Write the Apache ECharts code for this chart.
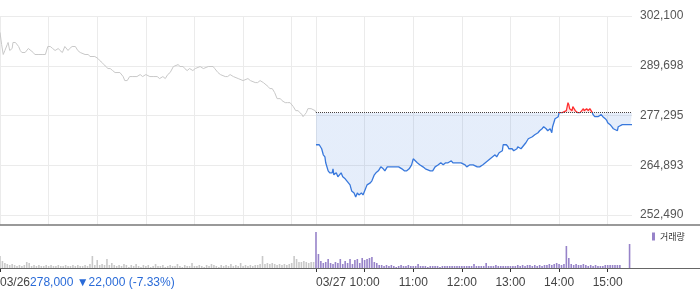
<!DOCTYPE html>
<html><head><meta charset="utf-8">
<script src="https://cdn.jsdelivr.net/npm/echarts@6/dist/echarts.min.js"></script>
<style>html,body{margin:0;padding:0;background:#fff}#c{width:700px;height:289px}</style>
</head><body><div id="c"></div>
<script>
// ---- data ----
const dayLabels = ['03/26', '03/27'];
const sessionMinutes = 390; // 09:00 - 15:30
const prevClose = 278000;   // 03/26 close (reference line for 03/27)
const summaryPrice = '278,000';
const summaryChange = '▼22,000 (-7.33%)';
const priceAxisMin = 252490;
const priceAxisMax = 302100;
const priceAxisStep = 12402.5;
const volumeAxisMax = 43; // thousand shares

// minute offsets (from 03/26 09:00) and prices, 03/26
const day1Min = [0,2,4,6,9,10,12,15,16,19,21,23,25,27,31,35,37,41,43,47,49,53,56,59,62,65,68,72,74,77,80,84,86,89,93,96,99,101,105,109,111,117,121,123,126,128,131,133,136,139,142,144,148,152,154,157,160,164,169,173,176,180,185,189,194,197,201,204,207,210,214,216,220,222,226,228,231,234,238,241,243,247,251,253,257,259,263,265,269,272,274,278,281,284,288,290,294,296,300,302,306,309,311,315,318,321,325,327,331,333,336,339,342,346,348,352,355,358,362,365,368,370,373,374,376,378,380,384,386,389,390];
const day1Price = [298000,295000,292500,293500,295000,295500,293500,294000,295500,295500,
295500,294500,293500,293000,293000,294000,294000,293000,292500,292500,
292500,292500,292500,294500,294500,294000,293500,294000,293500,293000,
294500,293500,294000,294500,294500,293500,293000,293000,292500,292500,
292000,292000,291500,291000,290500,290000,289500,289000,289000,288500,
288000,288000,288000,287000,286000,286000,287000,287000,287000,287500,
287000,287500,287000,287000,287000,286500,287000,286500,287500,288000,
289500,289500,290000,289500,289500,289000,288500,289000,288500,289000,
289000,289500,289000,289000,289500,289500,289500,289000,288000,287500,
287500,287000,287000,287500,287000,287000,286500,286500,286000,286000,
286500,286000,286000,285500,285500,286000,285500,285500,284500,284000,
284000,283000,281500,281500,281000,280500,280500,280500,279500,278500,
278500,278000,277500,277000,277500,278000,279000,279000,279000,278500,
278000];

// 03/27
const day2Min = [390,394,397,399,401,402,405,407,410,411,412,415,417,421,423,426,428,432,434,437,439,441,443,446,448,450,453,457,459,462,464,467,470,473,475,478,481,485,488,490,492,496,499,502,505,508,510,512,515,516,
518,522,525,527,531,534,537,541,544,547,550,553,557,559,563,565,569,571,574,576,580,584,586,589,592,596,599,601,605,608,611,613,616,620,621,625,627,628,632,634,638,639,643,645,
649,652,654,657,660,664,666,669,671,674,676,679,681,682,685,687,689,690,692,694,696,699,700,701,702,703,706,707,710,712,713,716,718,720,721,722,724,726,728,731,732,734,738,742,744,747,749,750,753,755,757,759,762,763,765,768,771,775,778,780];
const day2Price = [270000,270000,269000,267500,267000,265500,263500,263000,263000,264000,
262500,263000,262000,263000,262000,261500,261000,260000,258500,258000,
257000,258000,257500,258000,257500,258500,260000,260500,261000,262500,
263000,263500,264500,264000,263500,264500,264500,264500,264500,264500,
264500,264000,263500,263500,264000,265000,266500,266500,265500,265500,
265000,264500,264000,264000,263500,263500,264500,265000,265500,265000,
265500,265500,266000,265500,265500,265500,265500,265500,265000,264500,
265000,265000,265000,264500,264500,265000,265500,265500,266500,267000,
267500,267000,268000,268500,270000,270000,269500,269000,269000,268500,
269000,269500,269000,269500,
270500,271500,271500,272000,272500,273000,273500,274000,274500,274000,
273500,274000,273000,274500,276500,276500,277000,278000,278000,278000,
278000,278500,279500,280500,280000,279000,278500,279500,278500,278500,
278000,278000,278500,279000,278500,278500,279000,278500,279000,278000,
277500,277000,277000,277500,277000,276500,276000,275500,275000,274500,
274000,274000,273500,274500,274500,275000,275000,275000,275000,275000];

// volume (thousand shares), one bar per 3 minutes
const volStep = 3;
const vol1 = [12,7,5,4,3,4,3,2,3,2, 3,6,5,2,3,2,3,2,2,3, 2,3,2,2,3,2,2,3,2,2, 3,2,3,2,2,3,2,4,12,3,
8,3,4,3,9,3,5,3,2,3, 2,4,3,1,3,2,4,2,1,3, 2,3,1,2,4,2,2,3,1,2, 3,2,2,4,2,1,3,2,2,5,
2,2,3,2,1,3,2,4,3,2, 1,3,2,3,2,4,2,3,2,5, 2,3,2,3,2,3,3,4,12,4, 5,4,5,4,3,4,3,4,3,4,
5,12,9,6,6,7,6,5,6,6];
const vol2 = [36,14,7,5,6,9,5,4,6,5, 9,4,7,5,9,4,8,9,5,10, 8,9,10,11,6,5,3,3,2,3, 2,3,2,1,2,3,2,2,3,2,
2,2,4,2,2,2,1,2,2,2, 2,1,2,2,2,2,2,2,2,2, 2,2,2,2,2,4,2,2,2,2, 5,2,2,2,3,2,2,2,2,2,
2,2,2,3,2,3,2,3,3,2, 3,2,3,2,3,3,4,3,4,5, 4,3,4,22,10,4,3,4,3,3, 4,3,2,3,2,3,2,2,2,3,
3,3,3,3,3,3,0,0,0,24];

// ---- build ----
function fmt(m){const t=9*60+m;return String(Math.floor(t/60)).padStart(2,'0')+':'+String(t%60).padStart(2,'0');}
const cats = [];
dayLabels.forEach(d => { for (let m = 0; m < sessionMinutes; m++) cats.push(d + ' ' + fmt(m)); });
cats.push(dayLabels[dayLabels.length-1] + ' ' + fmt(sessionMinutes));
const isHour = i => cats[i].endsWith(':00');

const d1 = day1Min.map((m,i)=>[m, day1Price[i]]);
const d2 = day2Min.map((m,i)=>[m, day2Price[i]]);
const v1 = vol1.map((v,i)=>[i*volStep, v]);
const v2 = vol2.map((v,i)=>[sessionMinutes + i*volStep, v]);

const FONT = '"Liberation Sans", Arial, "Noto Sans CJK KR", sans-serif';
const chart = echarts.init(document.getElementById('c'), null, {renderer:'canvas', width:700, height:289});
chart.setOption({
  animation:false,
  textStyle:{fontFamily:FONT},
  grid:[
    {left:0, right:68, top:16, height:199},
    {left:0, right:68, top:16, height:209},
    {left:0, right:68, top:225, height:43}
  ],
  xAxis:[
    {type:'category', gridIndex:0, data:cats, boundaryGap:false, show:false},
    {type:'category', gridIndex:1, data:cats, boundaryGap:false,
     axisLine:{show:false}, axisTick:{show:false}, axisLabel:{show:false},
     splitLine:{show:true, interval:(i)=>isHour(i), lineStyle:{color:'#ebebeb', width:1}}},
    {type:'category', gridIndex:2, data:cats, boundaryGap:false,
     axisLine:{show:false}, splitLine:{show:false},
     axisTick:{show:true, length:4, interval:(i)=>isHour(i) && (i===0 || i>=sessionMinutes), lineStyle:{color:'#333'}},
     axisLabel:{show:true, interval:(i)=>isHour(i) && i>=sessionMinutes, margin:9, color:'#444', fontSize:12,
       formatter:(v)=> v.endsWith('09:00') ? '{l|'+v.slice(0,5)+'}' : v.slice(6),
       rich:{l:{padding:[0,0,0,30], color:'#444', fontSize:12, fontFamily:FONT}}}}
  ],
  yAxis:[
    {type:'value', gridIndex:0, position:'right', min:priceAxisMin, max:priceAxisMax, interval:priceAxisStep,
     axisLine:{show:false}, axisTick:{show:false},
     axisLabel:{margin:8, color:'#555', fontSize:12, formatter:(v)=>Math.round(v).toLocaleString('en-US')},
     splitLine:{lineStyle:{color:'#ebebeb', width:1}}},
    {type:'value', gridIndex:1, min:0, max:1, show:false, splitLine:{show:false}},
    {type:'value', gridIndex:2, min:0, max:volumeAxisMax, show:false, splitLine:{show:false}}
  ],
  visualMap:{type:'piecewise', show:false, seriesIndex:1, dimension:1,
    pieces:[{gte:0, lt:prevClose, color:'#3878dc'}, {gte:prevClose, lte:10000000, color:'#ff3030'}]},
  legend:{data:['거래량'], left:652, top:232, padding:0, icon:'rect', itemWidth:3, itemHeight:8,
    selectedMode:false, textStyle:{fontSize:9, color:'#333', fontFamily:'"Noto Sans CJK KR", sans-serif'}},
  series:[
    {type:'line', name:'03/26', xAxisIndex:0, yAxisIndex:0, data:d1, symbol:'none', silent:true,
     lineStyle:{color:'#c8c8c8', width:1}, itemStyle:{color:'#c8c8c8'}, z:3},
    {type:'line', name:'03/27', xAxisIndex:0, yAxisIndex:0, data:d2, symbol:'none', silent:true,
     lineStyle:{width:1.3}, areaStyle:{origin:prevClose, opacity:0.13}, z:4,
     markLine:{silent:true, symbol:['none','none'], label:{show:false}, animation:false,
       lineStyle:{type:'dotted', color:'#444', width:1},
       data:[[{coord:[sessionMinutes, prevClose]}, {coord:[2*sessionMinutes, prevClose]}]]}},
    {type:'bar', name:'거래량(03/26)', xAxisIndex:2, yAxisIndex:2, data:v1, barWidth:1.6, barGap:'-100%',
     itemStyle:{color:'#c9c9c9'}, silent:true},
    {type:'bar', name:'거래량', xAxisIndex:2, yAxisIndex:2, data:v2, barWidth:1.6, barGap:'-100%',
     itemStyle:{color:'#9783c9'}, silent:true}
  ],
  graphic:[
    {type:'line', silent:true, shape:{x1:0, y1:225, x2:700, y2:225}, style:{stroke:'#777', lineWidth:1.5}, z:10},
    {type:'line', silent:true, shape:{x1:0, y1:268.5, x2:700, y2:268.5}, style:{stroke:'#666', lineWidth:1}, z:10},
    {type:'text', left:0, top:277, silent:true,
     style:{text:'{d|'+dayLabels[0]+'}{b|'+summaryPrice+' '+summaryChange+'}',
       rich:{d:{fill:'#444', fontSize:12, fontFamily:FONT}, b:{fill:'#2a6bd8', fontSize:12, fontFamily:FONT}}}}
  ]
});
</script></body></html>
